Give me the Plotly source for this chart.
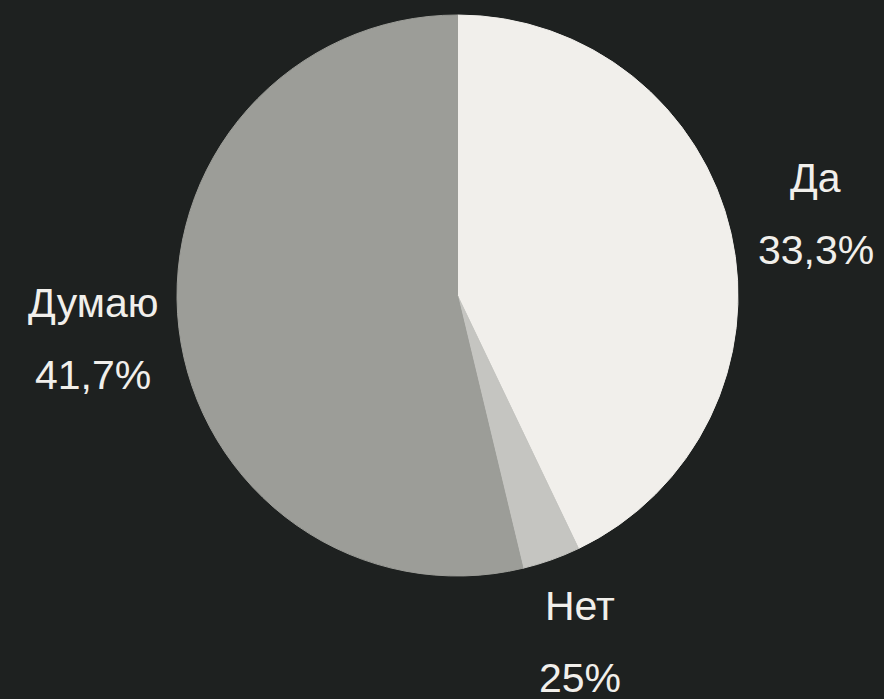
import math
import plotly.graph_objects as go

# Data
labels = ["Да", "Нет", "Думаю"]
values = [42.9, 3.35, 53.75]
pct_labels = ["33,3%", "25%", "41,7%"]
colors = ["#f1efeb", "#c5c5c1", "#9c9d98"]

BG = "#1e2120"
TXT = "#f1efeb"
W, H = 884, 699
ML, MR, MT, MB = 31, 0, 15, 123
pw, ph = W - ML - MR, H - MT - MB
r = min(pw, ph) / 2
cx, cy = ML + pw / 2, MT + ph / 2

fig = go.Figure(go.Pie(
    labels=labels,
    values=values,
    sort=False,
    direction="clockwise",
    rotation=0,
    marker=dict(colors=colors, line=dict(width=1, color=colors)),
    textinfo="none",
    showlegend=False,
))

# label positions derived from the slice mid-angles
total = sum(values)
cum = 0
annotations = []
for lab, val, pct in zip(labels, values, pct_labels):
    mid = (cum + val / 2) / total * 2 * math.pi
    cum += val
    d = 1.31 * r
    px = cx + d * math.sin(mid)
    py = cy - d * math.cos(mid)
    xp = (px - ML) / pw
    yp = (H - MB - py) / ph
    for txt, ys in ((lab, 36), (pct, -36)):
        annotations.append(dict(
            x=xp, y=yp, xref="paper", yref="paper", text=txt,
            showarrow=False, yshift=ys, xanchor="center", yanchor="middle",
            font=dict(family="Liberation Sans, Arial, sans-serif", size=41, color=TXT),
        ))

fig.update_layout(
    width=W, height=H,
    margin=dict(l=ML, r=MR, t=MT, b=MB),
    paper_bgcolor=BG, plot_bgcolor=BG,
    annotations=annotations,
)

fig.write_html(
    "out.html",
    config={"displayModeBar": False},
    post_script="document.body.style.margin='0';document.body.style.background='" + BG + "';",
)
